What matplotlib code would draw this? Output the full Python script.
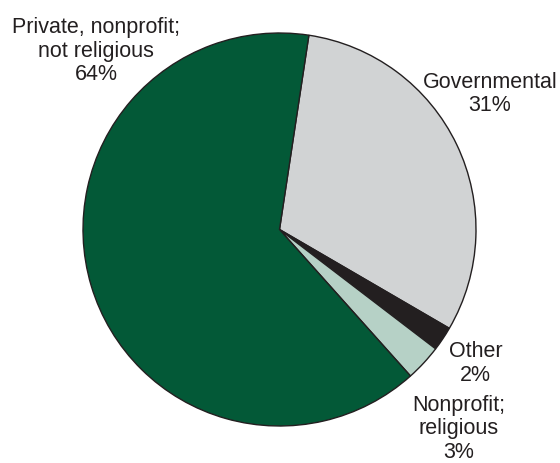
import matplotlib
matplotlib.use("Agg")
import matplotlib.pyplot as plt

# Data
categories = ["Governmental", "Other", "Nonprofit;\nreligious", "Private, nonprofit;\nnot religious"]
shares = [31, 2, 3, 64]
colors = ["#d1d3d4", "#231f20", "#b6d1c6", "#035937"]

plt.rcParams["font.family"] = ["Liberation Sans", "DejaVu Sans"]

fig = plt.figure(figsize=(5.6, 4.64), dpi=100)
ax = fig.add_axes([83 / 560, 37 / 464, 393 / 560, 393 / 464])

ax.pie(shares, colors=colors, startangle=81.4, counterclock=False, radius=1,
       wedgeprops=dict(edgecolor="#231f20", linewidth=1.0))
ax.set_xlim(-1, 1)
ax.set_ylim(-1, 1)
ax.axis("off")

# label placement (data coords of each label block centre)
label_pos = [(1.071, 0.695), (0.997, -0.678), (0.913, -1.010), (-0.934, 0.912)]
for name, pct, (x, y) in zip(categories, shares, label_pos):
    ax.text(x, y, f"{name}\n{pct}%", ha="center", va="center", fontsize=15.5,
            color="#231f20", linespacing=1.16, clip_on=False)

fig.savefig("out.png", dpi=100)
